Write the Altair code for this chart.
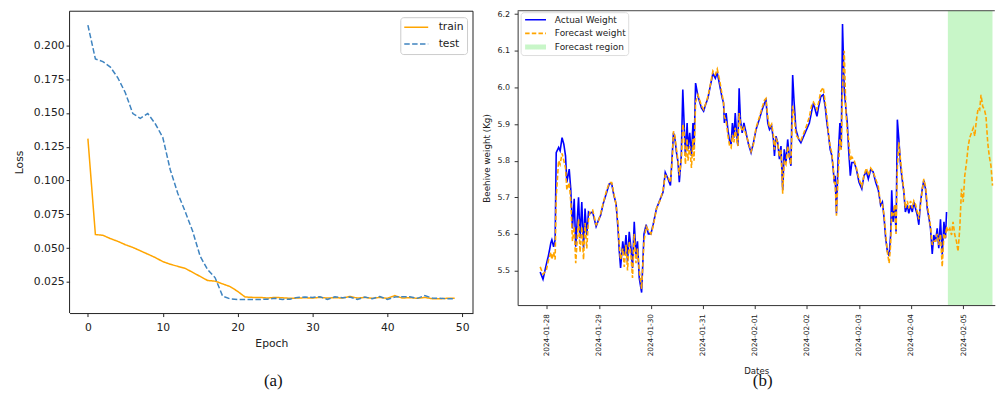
import altair as alt
import pandas as pd

# ---------------- Panel (a): training curves ----------------
epochs = list(range(50))
train_loss = [0.131, 0.060, 0.0595, 0.057, 0.055, 0.0525, 0.0505, 0.048, 0.0455, 0.043,
              0.040, 0.038, 0.0365, 0.035, 0.032, 0.029, 0.026, 0.0255, 0.0235, 0.0215,
              0.018, 0.0138, 0.0135, 0.0135, 0.013, 0.0135, 0.0132, 0.0128, 0.013, 0.0132,
              0.013, 0.0135, 0.013, 0.0133, 0.013, 0.0142, 0.013, 0.0135, 0.0128, 0.0135,
              0.0128, 0.0148, 0.013, 0.0133, 0.0128, 0.0135, 0.0125, 0.0125, 0.0128, 0.0128]
test_loss = [0.215, 0.190, 0.188, 0.184, 0.176, 0.165, 0.1496, 0.146, 0.1496, 0.142,
             0.132, 0.108, 0.0906, 0.077, 0.0624, 0.0439, 0.034, 0.028, 0.0144, 0.0124,
             0.012, 0.012, 0.012, 0.012, 0.0122, 0.0128, 0.012, 0.0122, 0.0135, 0.0138,
             0.0135, 0.014, 0.012, 0.014, 0.0132, 0.0138, 0.012, 0.0138, 0.0125, 0.0142,
             0.012, 0.0138, 0.014, 0.014, 0.0128, 0.0148, 0.013, 0.0128, 0.0125, 0.0125]
loss_series = ["train", "test"]
loss_ticks_x = [0, 10, 20, 30, 40, 50]
loss_ticks_y = [0.025, 0.050, 0.075, 0.100, 0.125, 0.150, 0.175, 0.200]

# ---------------- Panel (b): beehive weight ----------------
# hours after 2024-01-28 00:00
hist_hours = [-3.1, -1.8, -0.3, 0.8, 1.8, 2.3, 3.1, 3.8, 4.3, 5.4,
              6.1, 7.0, 7.8, 8.6, 9.2, 10.3, 11.0, 11.8, 12.6, 13.3,
              14.6, 15.3, 16.1, 16.9, 17.6, 18.4, 19.2, 19.9, 21.1, 22.7,
              23.8, 24.8, 26.0, 27.6, 28.8, 29.9, 30.9, 31.9, 32.8, 33.4,
              34.0, 35.0, 35.7, 36.5, 37.2, 38.0, 38.8, 39.5, 40.3, 41.1,
              41.8, 42.6, 43.7, 44.8, 45.8, 46.8, 48.0, 49.0, 50.6, 52.1,
              53.6, 54.6, 55.9, 57.0, 57.8, 58.4, 59.0, 59.8, 60.5, 61.1,
              62.0, 62.7, 63.3, 63.9, 64.7, 65.1, 65.9, 66.7, 67.4, 67.9,
              68.6, 69.7, 71.3, 72.3, 73.2, 74.3, 75.5, 76.6, 77.7, 78.6,
              79.7, 80.7, 81.5, 81.9, 82.7, 83.5, 84.3, 85.0, 85.6, 86.3,
              86.9, 87.5, 88.1, 88.7, 89.3, 90.1, 90.9, 91.9, 93.0, 94.2,
              95.3, 96.5, 98.1, 99.3, 100.4, 101.1, 101.9, 102.7, 103.7, 104.5,
              105.0, 105.7, 106.5, 107.3, 108.0, 108.8, 109.5, 110.3, 111.1, 111.8,
              112.6, 113.4, 114.0, 114.9, 116.2, 117.2, 118.5, 119.8, 121.1, 122.3,
              123.0, 123.8, 124.6, 125.4, 126.4, 127.5, 128.4, 129.2, 130.0, 130.7,
              131.5, 132.1, 132.6, 133.0, 133.6, 134.4, 135.2, 135.8, 136.4, 137.2,
              138.0, 138.6, 139.2, 140.0, 140.7, 141.8, 142.8, 144.0, 145.3, 146.3,
              147.4, 148.3, 149.4, 150.5, 151.7, 152.9, 154.0, 154.8, 155.6, 156.3,
              157.1, 157.9, 158.6, 159.1, 159.7, 160.5, 161.1, 161.7, 162.4, 163.2,
              163.9, 164.7, 165.4, 166.3, 167.0, 167.8, 168.6, 169.3, 170.1, 170.9,
              171.6, 172.4, 173.2, 173.9, 174.7, 175.5, 176.3, 177.0, 177.8, 178.5,
              179.3, 180.1, 180.8, 181.6, 182.4, 183.2, 183.9, 184.4]
actual_weight = [5.496, 5.476, 5.516, 5.543, 5.575, 5.584, 5.565, 5.584, 5.822, 5.836,
                 5.827, 5.863, 5.845, 5.813, 5.741, 5.777, 5.723, 5.615, 5.696, 5.565,
                 5.70, 5.588, 5.687, 5.561, 5.669, 5.597, 5.66, 5.656, 5.66, 5.62,
                 5.638, 5.651, 5.683, 5.714, 5.737, 5.737, 5.705, 5.683, 5.615, 5.552,
                 5.507, 5.58, 5.543, 5.597, 5.525, 5.606, 5.561, 5.507, 5.633, 5.543,
                 5.58, 5.48, 5.44, 5.60, 5.625, 5.60, 5.60, 5.625, 5.67, 5.692,
                 5.714, 5.768, 5.75, 5.732, 5.813, 5.876, 5.863, 5.822, 5.795, 5.741,
                 5.813, 5.994, 5.903, 5.813, 5.903, 5.831, 5.876, 5.813, 5.903, 5.831,
                 6.012, 5.976, 5.944, 5.935, 5.953, 5.971, 6.007, 6.038, 6.025, 6.04,
                 6.007, 5.976, 5.957, 5.903, 5.93, 5.885, 5.854, 5.845, 5.903, 5.863,
                 5.93, 5.876, 5.84, 5.998, 5.912, 5.876, 5.903, 5.876, 5.845, 5.822,
                 5.849, 5.885, 5.915, 5.939, 5.957, 5.965, 5.903, 5.885, 5.894, 5.858,
                 5.813, 5.867, 5.849, 5.804, 5.84, 5.72, 5.831, 5.795, 5.858, 5.813,
                 5.786, 6.034, 5.966, 5.885, 5.858, 5.849, 5.867, 5.885, 5.903, 5.939,
                 5.957, 5.939, 5.921, 5.948, 5.975, 5.98, 5.948, 5.903, 5.867, 5.831,
                 5.813, 5.777, 5.741, 5.759, 5.656, 5.813, 5.903, 5.831, 6.173, 5.993,
                 5.939, 5.903, 5.831, 5.759, 5.795, 5.795, 5.777, 5.741, 5.723, 5.759,
                 5.77, 5.75, 5.776, 5.77, 5.741, 5.72, 5.678, 5.687, 5.642, 5.588,
                 5.552, 5.54, 5.597, 5.719, 5.633, 5.678, 5.606, 5.912, 5.858, 5.786,
                 5.75, 5.714, 5.66, 5.678, 5.656, 5.678, 5.66, 5.687, 5.669, 5.651,
                 5.625, 5.687, 5.723, 5.746, 5.723, 5.669, 5.642, 5.615, 5.545, 5.597,
                 5.579, 5.615, 5.561, 5.64, 5.543, 5.633, 5.588, 5.66]
forecast_hist = [5.51, 5.49, 5.50, 5.53, 5.55, 5.53, 5.55, 5.53, 5.70, 5.80,
                 5.79, 5.82, 5.80, 5.78, 5.72, 5.74, 5.69, 5.58, 5.62, 5.52,
                 5.64, 5.55, 5.62, 5.53, 5.63, 5.56, 5.64, 5.66, 5.665, 5.625,
                 5.635, 5.655, 5.685, 5.72, 5.74, 5.74, 5.71, 5.68, 5.63, 5.57,
                 5.53, 5.56, 5.51, 5.57, 5.50, 5.58, 5.54, 5.48, 5.60, 5.52,
                 5.56, 5.50, 5.45, 5.58, 5.62, 5.61, 5.60, 5.62, 5.67, 5.69,
                 5.72, 5.76, 5.755, 5.74, 5.80, 5.88, 5.87, 5.83, 5.80, 5.76,
                 5.80, 5.90, 5.88, 5.79, 5.86, 5.80, 5.84, 5.78, 5.86, 5.80,
                 5.96, 5.98, 5.95, 5.94, 5.955, 5.975, 6.01, 6.045, 6.035, 6.05,
                 6.02, 5.985, 5.96, 5.92, 5.91, 5.87, 5.84, 5.835, 5.87, 5.85,
                 5.89, 5.86, 5.84, 5.93, 5.90, 5.88, 5.89, 5.87, 5.85, 5.825,
                 5.845, 5.89, 5.92, 5.945, 5.965, 5.97, 5.92, 5.89, 5.90, 5.87,
                 5.83, 5.86, 5.85, 5.81, 5.83, 5.71, 5.80, 5.79, 5.84, 5.81,
                 5.79, 5.95, 5.93, 5.87, 5.86, 5.855, 5.875, 5.895, 5.92, 5.955,
                 5.96, 5.95, 5.94, 5.96, 5.99, 6.00, 5.96, 5.92, 5.87, 5.84,
                 5.82, 5.78, 5.74, 5.74, 5.65, 5.76, 5.86, 5.83, 6.00, 6.10,
                 5.93, 5.88, 5.86, 5.80, 5.81, 5.80, 5.78, 5.75, 5.73, 5.76,
                 5.78, 5.76, 5.78, 5.77, 5.75, 5.73, 5.68, 5.68, 5.65, 5.60,
                 5.55, 5.52, 5.57, 5.66, 5.65, 5.68, 5.60, 5.78, 5.85, 5.80,
                 5.76, 5.72, 5.67, 5.69, 5.67, 5.69, 5.67, 5.69, 5.68, 5.66,
                 5.64, 5.68, 5.72, 5.75, 5.73, 5.68, 5.65, 5.62, 5.57, 5.58,
                 5.58, 5.60, 5.57, 5.60, 5.51, 5.60, 5.59, 5.62]
future_hours = [185.0, 185.9, 186.7, 187.4, 188.2, 189.0, 189.7, 190.5, 191.3, 192.1,
                192.8, 193.6, 194.4, 195.1, 195.9, 196.7, 197.4, 198.2, 199.0, 199.7,
                200.3, 201.1, 201.9, 202.6, 203.4, 204.1, 204.9, 205.6]
forecast_future = [5.606, 5.615, 5.597, 5.633, 5.597, 5.579, 5.552, 5.615, 5.723, 5.687,
                   5.759, 5.795, 5.84, 5.863, 5.876, 5.889, 5.867, 5.912, 5.944, 5.939,
                   5.98, 5.948, 5.939, 5.921, 5.849, 5.813, 5.786, 5.732]
region_hours = [185.0, 205.6]
weight_series = ["Actual Weight", "Forecast weight", "Forecast region"]
weight_ticks_y = [5.5, 5.6, 5.7, 5.8, 5.9, 6.0, 6.1, 6.2]

BASE = pd.Timestamp("2024-01-28 00:00:00")


def stamp(hours):
    return [(BASE + pd.Timedelta(hours=h)).strftime("%Y-%m-%dT%H:%M:%S") for h in hours]


df_loss = pd.DataFrame({
    "Epoch": epochs + epochs,
    "Loss": train_loss + test_loss,
    "run": ["train"] * len(epochs) + ["test"] * len(epochs),
})
df_actual = pd.DataFrame({"time": stamp(hist_hours), "w": actual_weight,
                          "series": "Actual Weight"})
df_fc = pd.DataFrame({"time": stamp(hist_hours + future_hours),
                      "w": forecast_hist + forecast_future,
                      "series": "Forecast weight"})
df_region = pd.DataFrame({"start": stamp([region_hours[0]]), "end": stamp([region_hours[1]]),
                          "series": ["Forecast region"]})

FONT = "DejaVu Sans"
DROP = 0.5                 # panel (a) frame sits a hair lower than panel (b)
AW, AH = 405, 303.5
BW, BH = 479, 295.5
one = pd.DataFrame({"k": [0]})

# ---------- panel a ----------
leg_a = alt.Legend(title=None, orient="none", legendX=332, legendY=6.5,
                   symbolType="M-1.85,0H1.85", symbolSize=169, symbolStrokeWidth=1.5,
                   symbolOffset=5.5, labelOffset=15, labelFontSize=10.8, labelFont=FONT,
                   labelColor="#222", padding=3, fillColor="white", strokeColor="#cccccc",
                   cornerRadius=3, rowPadding=3, clipHeight=14)
lines_a = alt.Chart(df_loss).mark_line(strokeWidth=1.5).encode(
    x=alt.X("Epoch:Q", scale=alt.Scale(domain=[-2.45, 51.45], nice=False, zero=False),
            axis=alt.Axis(values=loss_ticks_x, title="Epoch", grid=False, tickSize=3.5,
                          labelPadding=5, titlePadding=5.5, labelFontSize=10.8, titleFontSize=10.8,
                          labelFont=FONT, titleFont=FONT, titleFontWeight="normal",
                          labelColor="#222", titleColor="#222", domainColor="#222",
                          tickColor="#222")),
    y=alt.Y("Loss:Q", scale=alt.Scale(domain=[0.0019, 0.22567], nice=False, zero=False),
            axis=alt.Axis(values=loss_ticks_y, format=".3f", title="Loss", grid=False,
                          domain=False, tickSize=3.5, labelPadding=2, titlePadding=9,
                          labelFontSize=10.8, titleFontSize=10.8, labelFont=FONT,
                          titleFont=FONT, titleFontWeight="normal", labelColor="#222",
                          titleColor="#222", tickColor="#222")),
    color=alt.Color("run:N", scale=alt.Scale(domain=loss_series, range=["#ffa500", "#3f84c0"]),
                    legend=leg_a),
    strokeDash=alt.StrokeDash("run:N", scale=alt.Scale(domain=loss_series,
                                                       range=[[1, 0], [5.5, 2.4]]),
                              legend=leg_a),
)
frame_top = alt.Chart(one).mark_rule(color="#222", strokeWidth=1).encode(
    x=alt.value(0), x2=alt.value(AW), y=alt.value(DROP))
frame_left = alt.Chart(one).mark_rule(color="#222", strokeWidth=1).encode(
    x=alt.value(0), y=alt.value(DROP), y2=alt.value(AH))
frame_right = alt.Chart(one).mark_rule(color="#222", strokeWidth=1).encode(
    x=alt.value(AW), y=alt.value(DROP), y2=alt.value(AH))
cap_a = alt.Chart(pd.DataFrame({"cap": ["(a)"]})).mark_text(
    font="Liberation Serif", fontSize=17, baseline="middle", align="center", color="#111"
).encode(text="cap:N", x=alt.value(204.5), y=alt.value(372))
panel_a = alt.layer(lines_a, frame_top, frame_left, frame_right, cap_a).properties(
    width=AW, height=AH, view=alt.ViewBackground(stroke="transparent"))

# ---------- panel b ----------
leg_b = alt.Legend(title=None, orient="none", legendX=3, legendY=1.5,
                   symbolType="M-5.25,0H5.25", symbolSize=16, symbolOffset=8.5,
                   labelOffset=14.8, labelFontSize=9, labelFont=FONT, labelColor="#222",
                   padding=2, fillColor="white", strokeColor="#dddddd", cornerRadius=3,
                   rowPadding=2.7, clipHeight=11)
xb = alt.X("time:T", scale=alt.Scale(domain=[alt.DateTime(year=2024, month=1, date=27, hours=10, minutes=30),
                                             alt.DateTime(year=2024, month=2, date=5, hours=14, minutes=40)]),
           axis=alt.Axis(format="%Y-%m-%d", tickCount={"interval": "day", "step": 1},
                         labelAngle=270, title="Dates", grid=False, tickSize=3.5,
                         labelPadding=5, titlePadding=10.5, labelFontSize=7.3, titleFontSize=8.6,
                         labelFont=FONT, titleFont=FONT, titleFontWeight="normal",
                         labelColor="#222", titleColor="#222", domainColor="#333",
                         tickColor="#333"))
yb = alt.Y("w:Q", scale=alt.Scale(domain=[5.4056, 6.2095], nice=False, zero=False),
           axis=alt.Axis(values=weight_ticks_y, format=".1f", title="Beehive weight (Kg)",
                         grid=False, tickSize=3.5, labelPadding=4.5, titlePadding=5.5,
                         labelFontSize=8, titleFontSize=8.8, labelFont=FONT, titleFont=FONT,
                         titleFontWeight="normal", labelColor="#222", titleColor="#222",
                         domainColor="#333", tickColor="#333"))
color_b = alt.Color("series:N", scale=alt.Scale(domain=weight_series,
                                                range=["#0000ff", "#ffa500", "#c8f6c8"]),
                    legend=leg_b)
dash_b = alt.StrokeDash("series:N", scale=alt.Scale(domain=weight_series,
                                                    range=[[1, 0], [4.5, 2.2], [1, 0]]),
                        legend=leg_b)
width_b = alt.StrokeWidth("series:N", scale=alt.Scale(type="ordinal", domain=weight_series,
                                                      range=[1.6, 1.6, 5]),
                          legend=leg_b)

region = alt.Chart(df_region).mark_rect().encode(
    x=alt.X("start:T"), x2="end:T", color=color_b)
actual = alt.Chart(df_actual).mark_line().encode(
    x=xb, y=yb, color=color_b, strokeDash=dash_b, strokeWidth=width_b)
fc = alt.Chart(df_fc).mark_line().encode(
    x=xb, y=yb, color=color_b, strokeDash=dash_b, strokeWidth=width_b)
top_rule = alt.Chart(one).mark_rule(color="#444", strokeWidth=1).encode(
    x=alt.value(0), x2=alt.value(BW), y=alt.value(0))
cap_b = alt.Chart(pd.DataFrame({"cap": ["(b)"]})).mark_text(
    font="Liberation Serif", fontSize=17, baseline="middle", align="center", color="#111"
).encode(text="cap:N", x=alt.value(246), y=alt.value(372))
panel_b = alt.layer(region, actual, fc, top_rule, cap_b).properties(
    width=BW, height=BH, view=alt.ViewBackground(stroke="transparent"))

chart = alt.hconcat(panel_a, panel_b, spacing=7.8).resolve_scale(
    color="independent", strokeDash="independent", strokeWidth="independent",
    x="independent", y="independent"
).resolve_legend(
    color="independent", strokeDash="independent", strokeWidth="independent"
).properties(
    padding={"left": 4.8, "top": 0, "right": 0, "bottom": 0}
).configure(font=FONT).configure_view(stroke="transparent")

chart.save("out.html", embed_options={"renderer": "svg", "actions": False})
